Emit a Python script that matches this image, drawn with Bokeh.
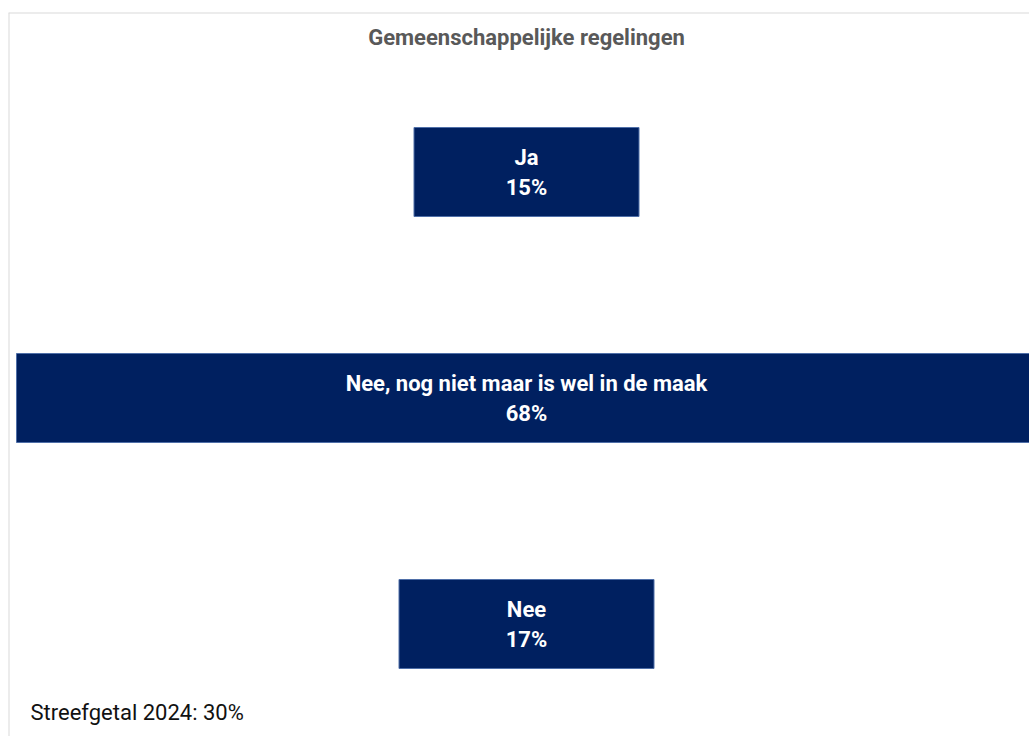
from bokeh.plotting import figure
from bokeh.models import Range1d, ColumnDataSource, Label, Span
from bokeh.core.properties import value
from bokeh.embed import file_html
from bokeh.resources import INLINE

categories = ["Ja", "Nee, nog niet maar is wel in de maak", "Nee"]
values = [15, 68, 17]
pct_labels = ["15%", "68%", "17%"]
title_text = "Gemeenschappelijke regelingen"
note_text = "Streefgetal 2024: 30%"

FONT = "Roboto"
BAR_COLOR = "#002060"

pos = list(range(len(categories)))
src = ColumnDataSource(dict(
    y=pos,
    left=[-v / 2 for v in values],
    right=[v / 2 for v in values],
    cat=categories,
    pct=pct_labels,
    x=[0] * len(values),
))

W, H = 1029, 736
BORDER_TOP, BORDER_LEFT = 12, 8
frame_w = W - BORDER_LEFT
frame_h = H - BORDER_TOP
px_per_x = 15.0
center_px = 518
px_per_y = 226.0
first_center_px = 159.5

x_start = -center_px / px_per_x
x_end = (frame_w - center_px) / px_per_x
y_top = -first_center_px / px_per_y
y_bottom = y_top + frame_h / px_per_y

p = figure(width=W, height=H, output_backend="svg", toolbar_location=None,
           x_range=Range1d(x_start, x_end), y_range=Range1d(y_bottom, y_top),
           min_border_left=BORDER_LEFT, min_border_right=0, min_border_bottom=0,
           min_border_top=BORDER_TOP)
p.axis.visible = False
p.grid.visible = False
p.outline_line_color = None
p.background_fill_color = "white"
p.border_fill_color = "white"

p.add_layout(Span(location=x_start, dimension="height", line_color="#d9d9d9", line_width=2))
p.add_layout(Span(location=y_top, dimension="width", line_color="#d9d9d9", line_width=2))

p.hbar(y="y", left="left", right="right", height=89 / px_per_y, source=src,
       fill_color=BAR_COLOR, line_color="#4f6fa8", line_width=1)

p.text(x="x", y="y", text="cat", source=src, text_color="white",
       text_font=value(FONT), text_font_style="bold", text_font_size="22px",
       text_align="center", text_baseline="middle", y_offset=-14.5)
p.text(x="x", y="y", text="pct", source=src, text_color="white",
       text_font=value(FONT), text_font_style="bold", text_font_size="22px",
       text_align="center", text_baseline="middle", y_offset=15)

p.add_layout(Label(x=0, y=y_top + 25 / px_per_y, text=title_text,
                   text_font=FONT, text_font_style="bold", text_font_size="22px",
                   text_color="#595959", text_align="center", text_baseline="middle"))
p.add_layout(Label(x=x_start + 22 / px_per_x, y=y_top + 700 / px_per_y, text=note_text,
                   text_font=FONT, text_font_size="22px",
                   text_color="#111111", text_align="left", text_baseline="middle"))

open("out.html", "w").write(file_html(p, INLINE))
